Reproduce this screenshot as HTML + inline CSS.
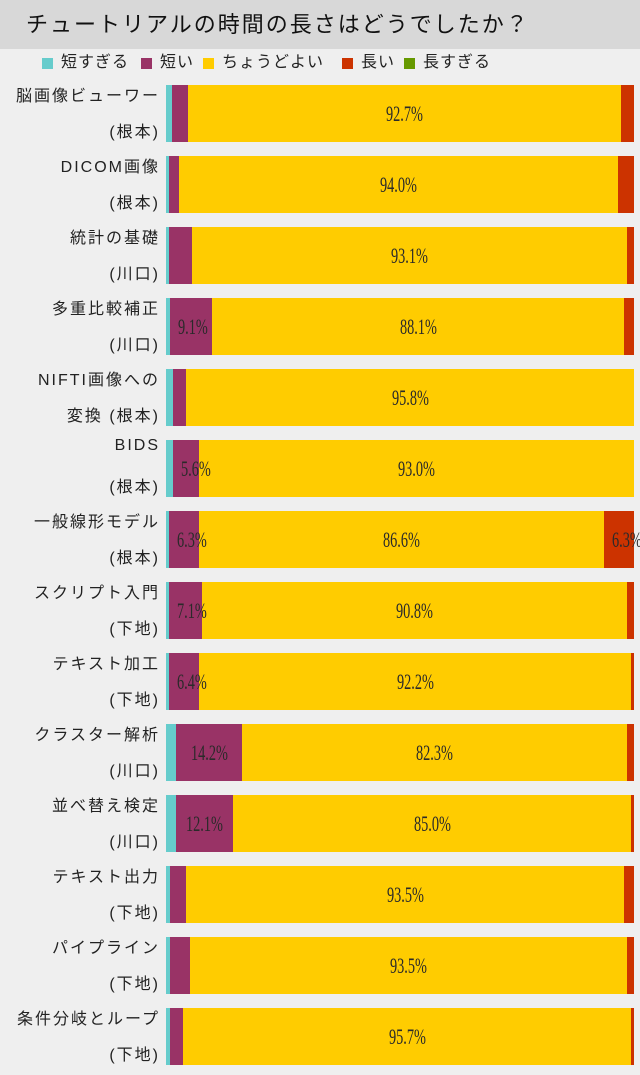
<!DOCTYPE html>
<html><head><meta charset="utf-8"><style>
body{margin:0;width:640px;height:1075px;background:#efefef;position:relative;overflow:hidden;font-family:"Liberation Sans","Noto Sans CJK JP",sans-serif;}
.t{position:absolute;left:0;top:0;width:640px;height:49px;background:#d8d8d8;font-size:22px;line-height:49px;padding-left:26px;box-sizing:border-box;color:#111;letter-spacing:2px}
.lg{position:absolute;top:53px;font-size:16px;line-height:20px;color:#222;white-space:nowrap;letter-spacing:1px}
.lg i{position:absolute;left:-19px;top:5px;width:11px;height:11px}
.s{position:absolute;height:57px}
.p{position:absolute;height:57px;line-height:57px;text-align:center;font-family:"Liberation Serif",serif;font-size:22px;color:#2a2a2a;white-space:nowrap}
.p span{display:inline-block;transform:scaleX(0.65)}
.l{position:absolute;right:480px;font-size:16px;color:#222;letter-spacing:2px;white-space:nowrap;text-align:right}
</style></head><body>
<div class="t">チュートリアルの時間の長さはどうでしたか？</div>
<div class="lg" style="left:61px"><i style="background:#66cccc"></i>短すぎる</div>
<div class="lg" style="left:160px"><i style="background:#993366"></i>短い</div>
<div class="lg" style="left:222px"><i style="background:#ffcc00"></i>ちょうどよい</div>
<div class="lg" style="left:361px"><i style="background:#cc3300"></i>長い</div>
<div class="lg" style="left:423px"><i style="background:#669900"></i>長すぎる</div>
<div id="c"></div>
<script>
var rows=[
["脳画像ビューワー","(根本)",[172,188,621],"","92.7%",""],
["DICOM画像","(根本)",[169,179,618],"","94.0%",""],
["統計の基礎","(川口)",[169,192,627],"","93.1%",""],
["多重比較補正","(川口)",[170,212,624],"9.1%","88.1%",""],
["NIFTI画像への","変換 (根本)",[173,186,634],"","95.8%",""],
["BIDS","(根本)",[173,199,634],"5.6%","93.0%",""],
["一般線形モデル","(根本)",[169,199,604],"6.3%","86.6%","6.3%"],
["スクリプト入門","(下地)",[169,202,627],"7.1%","90.8%",""],
["テキスト加工","(下地)",[169,199,631],"6.4%","92.2%",""],
["クラスター解析","(川口)",[176,242,627],"14.2%","82.3%",""],
["並べ替え検定","(川口)",[176,233,631],"12.1%","85.0%",""],
["テキスト出力","(下地)",[170,186,624],"","93.5%",""],
["パイプライン","(下地)",[170,190,627],"","93.5%",""],
["条件分岐とループ","(下地)",[170,183,631],"","95.7%",""]];
var h="";
rows.forEach(function(r,i){
 var y=85+71*i,e=r[2],xs=[166,e[0],e[1],e[2],634],cs=["#66cccc","#993366","#ffcc00","#cc3300"];
 for(var k=0;k<4;k++){if(xs[k+1]>xs[k])h+='<div class="s" style="top:'+y+'px;left:'+xs[k]+'px;width:'+(xs[k+1]-xs[k])+'px;background:'+cs[k]+'"></div>';}
 var labs=[r[3],r[4],r[5]];
 for(var k=0;k<3;k++){if(labs[k])h+='<div class="p" style="top:'+y+'px;left:'+xs[k+1]+'px;width:'+(xs[k+2]-xs[k+1])+'px"><span>'+labs[k]+'</span></div>';}
 h+='<div class="l" style="top:'+(y-3)+'px">'+r[0]+'</div>';
 h+='<div class="l" style="top:'+(y+33)+'px">'+r[1]+'</div>';
});
document.getElementById("c").innerHTML=h;
</script>
</body></html>
